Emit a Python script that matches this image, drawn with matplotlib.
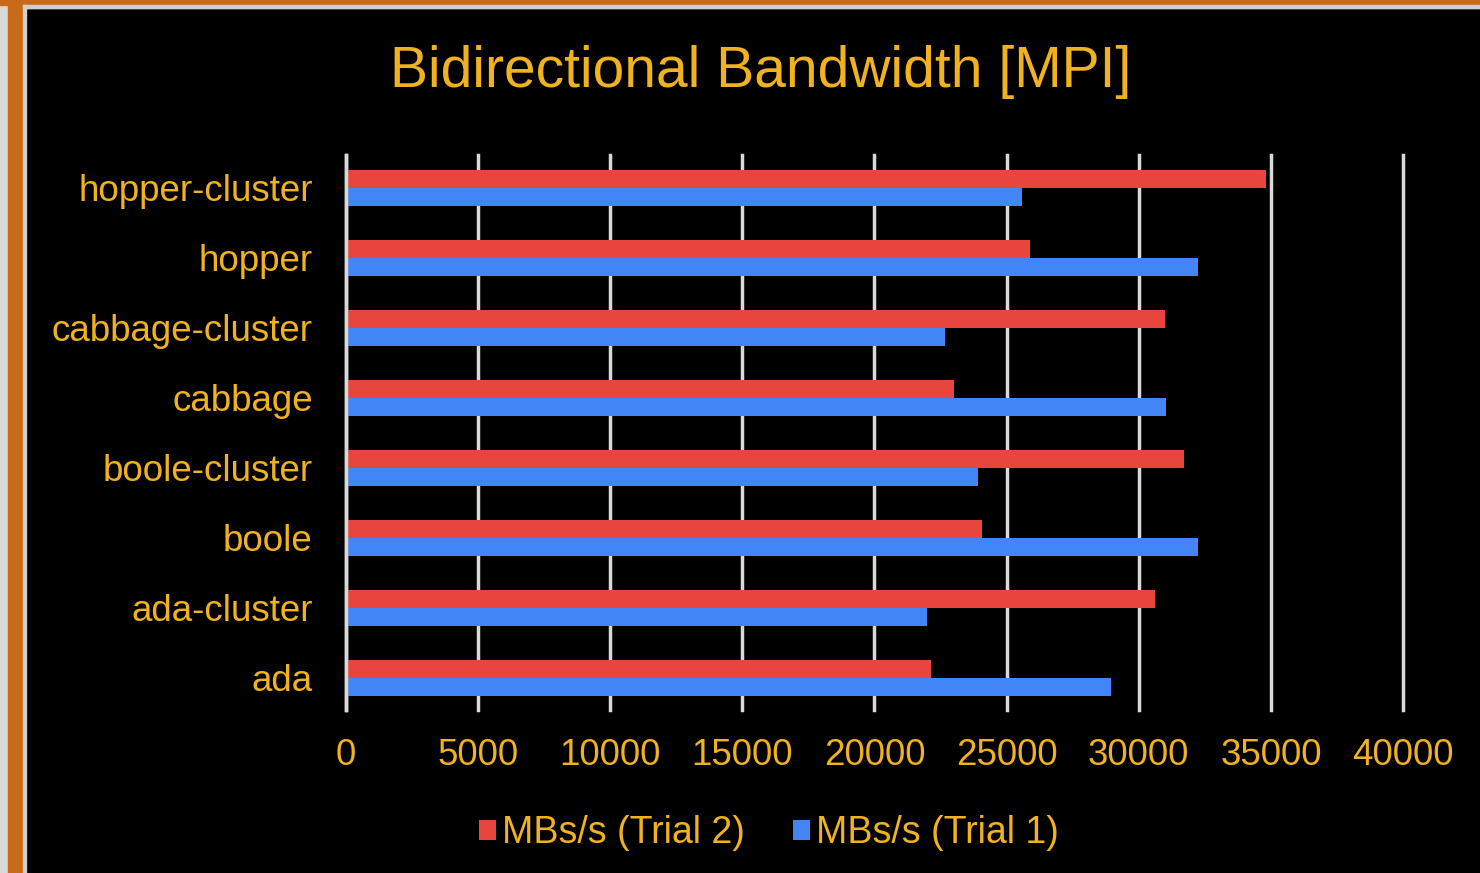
import matplotlib.pyplot as plt
import matplotlib.patches as mpatches
import numpy as np

# Data
hosts = ['ada', 'ada-cluster', 'boole', 'boole-cluster',
         'cabbage', 'cabbage-cluster', 'hopper', 'hopper-cluster']
trial2 = [22150, 30600, 24050, 31700, 23000, 31000, 25900, 34800]
trial1 = [28950, 22000, 32250, 23900, 31050, 22650, 32250, 25600]
xticks = [0, 5000, 10000, 15000, 20000, 25000, 30000, 35000, 40000]

gold = '#F0B21F'
red = '#E8453C'
blue = '#4285F4'
grid_col = '#D9D9D9'

plt.rcParams['font.family'] = ['Liberation Sans', 'DejaVu Sans']

W, H = 1480, 873
fig = plt.figure(figsize=(W / 100, H / 100), dpi=100)
fig.patch.set_facecolor('black')

# slide frame on left and top
def frame(x0, y0, w, h, c):
    fig.patches.append(mpatches.Rectangle((x0 / W, 1 - (y0 + h) / H), w / W, h / H,
                                          transform=fig.transFigure, color=c, zorder=0))

frame(0, 0, 8, H, '#D8D8D4')
frame(0, 0, W, 8, '#D8D8D4')
frame(8, 0, 15, H, '#C96A18')
frame(0, 0, W, 5, '#C96A18')
frame(23, 5, 3, H, '#CFCFCF')
frame(23, 5, W, 3, '#CFCFCF')

ax = fig.add_axes([346 / W, 1 - 710 / H, (1403 - 346) / W, (710 - 155) / H])
ax.set_facecolor('black')

y = np.arange(len(hosts))
h = 0.26
ax.barh(y + h / 2, trial2, height=h, color=red, label='MBs/s (Trial 2)', zorder=3)
ax.barh(y - h / 2, trial1, height=h, color=blue, label='MBs/s (Trial 1)', zorder=3)

ax.set_xlim(0, 40000)
ax.set_ylim(-0.46, 7.47)
ax.set_xticks(xticks)
ax.set_xticklabels([str(v) for v in xticks])
ax.set_yticks(y)
ax.set_yticklabels(hosts)
ax.tick_params(axis='both', length=0, colors=gold)
ax.tick_params(axis='y', pad=24, labelsize=26.5)
ax.tick_params(axis='x', pad=20, labelsize=26.5)
ax.grid(axis='x', color=grid_col, linewidth=2.5, zorder=1)
for gl in ax.get_xgridlines():
    gl.set_clip_on(False)
for s in ['top', 'right', 'bottom']:
    ax.spines[s].set_visible(False)
ax.spines['left'].set_color(grid_col)
ax.spines['left'].set_linewidth(2.5)
ax.spines['left'].set_zorder(4)

fig.text(761 / W, 1 - 72 / H, 'Bidirectional Bandwidth [MPI]', color=gold,
         fontsize=41, ha='center', va='center')

leg = fig.legend(loc='center', bbox_to_anchor=(769 / W, 1 - 833 / H), ncol=2,
                 frameon=False, fontsize=27, handlelength=0.45, handleheight=0.45,
                 handletextpad=0.15, columnspacing=1.3)
for t in leg.get_texts():
    t.set_color(gold)

fig.savefig('out.png', dpi=100, facecolor=fig.get_facecolor())
